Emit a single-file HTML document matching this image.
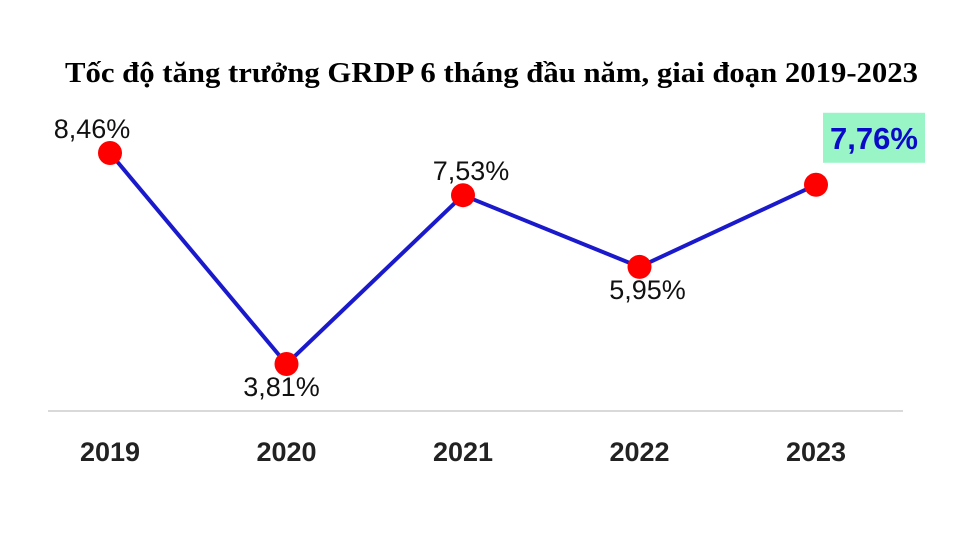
<!DOCTYPE html>
<html><head><meta charset="utf-8"><style>
body{margin:0;background:#fff;}
svg{display:block;}
</style></head><body>
<svg width="960" height="540" viewBox="0 0 960 540">
<rect width="960" height="540" fill="#fff"/>
<text x="65" y="82" textLength="853" lengthAdjust="spacingAndGlyphs" font-family="Liberation Serif, serif" font-weight="bold" font-size="29" fill="#000">Tốc độ tăng trưởng GRDP 6 tháng đầu năm, giai đoạn 2019-2023</text>
<line x1="48" y1="411" x2="903" y2="411" stroke="#d9d9d9" stroke-width="2"/>
<g id="marks"></g>
</svg>
<script>
const years = ["2019","2020","2021","2022","2023"];
const values = [8.46, 3.81, 7.53, 5.95, 7.76];
const valueLabels = ["8,46%","3,81%","7,53%","5,95%","7,76%"];
const labelPos = ["above","below","above","below","highlight"];

const NS = "http://www.w3.org/2000/svg";
const g = document.getElementById("marks");
function xScale(i){ return 110 + i * 176.5; }
function yScale(v){ return 153 + (8.46 - v) * 45.38; }
function mk(tag, attrs){ const e=document.createElementNS(NS,tag); for(const k in attrs) e.setAttribute(k, attrs[k]); return e; }

const pts = values.map((v,i)=>xScale(i)+","+yScale(v)).join(" ");
const line = mk("polyline",{points:pts,fill:"none",stroke:"#1a1acc","stroke-width":4,"stroke-linejoin":"round"});


g.appendChild(line);

values.forEach((v,i)=>{
  const cx=xScale(i), cy=yScale(v);
  const c = mk("circle",{cx:cx,cy:cy,r:12,fill:"#ff0000"});
  
  
  g.appendChild(c);

  const yl = mk("text",{x:cx,y:461,"text-anchor":"middle","font-family":"Liberation Sans, sans-serif","font-weight":"bold","font-size":27,fill:"#222"});
  yl.textContent = years[i];
  
  
  g.appendChild(yl);

  const pos = labelPos[i];
  if(pos==="highlight"){
    const r = mk("rect",{x:cx+7,y:cy-72,width:102,height:50,fill:"#99f5c6"});
    
    
    g.appendChild(r);
    const t = mk("text",{x:cx+58,y:cy-36,"text-anchor":"middle","font-family":"Liberation Sans, sans-serif","font-weight":"bold","font-size":31,fill:"#0a0ac8"});
    t.textContent = valueLabels[i];
    
    
    g.appendChild(t);
  } else {
    const dx = i===0 ? -18 : (i===1 ? -5 : 8);
    const ty = pos==="above" ? cy-15 : cy+32;
    const t = mk("text",{x:cx+dx,y:ty,"text-anchor":"middle","font-family":"Liberation Sans, sans-serif","font-size":27,fill:"#111"});
    t.textContent = valueLabels[i];
    
    
    g.appendChild(t);
  }
});
</script>
</body></html>
